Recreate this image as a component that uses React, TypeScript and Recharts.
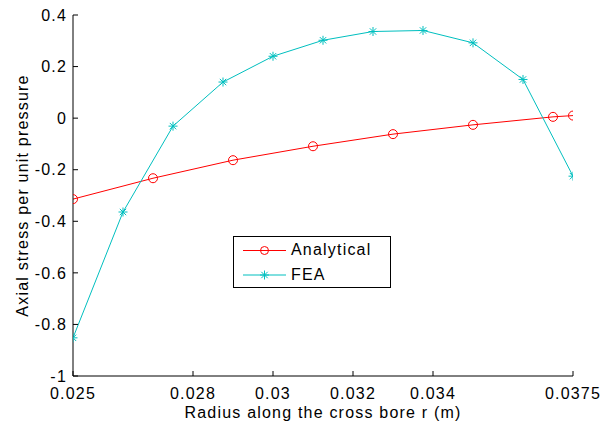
import React from 'react';
import { LineChart, Line, XAxis, YAxis, Legend } from 'recharts';

const analyticalR = [0.025, 0.027, 0.029, 0.031, 0.033, 0.035, 0.037, 0.0375];
const analyticalStress = [-0.314, -0.233, -0.163, -0.109, -0.062, -0.026, 0.005, 0.01];

const feaR = [0.025, 0.02625, 0.0275, 0.02875, 0.03, 0.03125, 0.0325, 0.03375, 0.035, 0.03625, 0.0375];
const feaStress = [-0.852, -0.364, -0.031, 0.14, 0.24, 0.302, 0.336, 0.34, 0.292, 0.15, -0.225];

const xTicks = [0.025, 0.028, 0.03, 0.032, 0.034, 0.0375];
const yTicks = [-1, -0.8, -0.6, -0.4, -0.2, 0, 0.2, 0.4];

const analyticalData = analyticalR.map((r, i) => ({ r, v: analyticalStress[i] }));
const feaData = feaR.map((r, i) => ({ r, v: feaStress[i] }));

const RED = '#FF0000';
const CYAN = '#00BFBF';
const FONT = 'Arial, "Liberation Sans", sans-serif';
const FS = 16;
const LS = 1.2;

const Circle = (props: any) => {
  const { cx, cy } = props;
  if (cx == null || cy == null) return null;
  return <circle cx={cx} cy={cy} r={4.5} fill="none" stroke={RED} strokeWidth={1} />;
};

const Star = (props: any) => {
  const { cx, cy } = props;
  if (cx == null || cy == null) return null;
  const s = 4.5;
  const d = 3.2;
  return (
    <g stroke={CYAN} strokeWidth={1}>
      <line x1={cx - s} y1={cy} x2={cx + s} y2={cy} />
      <line x1={cx} y1={cy - s} x2={cx} y2={cy + s} />
      <line x1={cx - d} y1={cy - d} x2={cx + d} y2={cy + d} />
      <line x1={cx - d} y1={cy + d} x2={cx + d} y2={cy - d} />
    </g>
  );
};

const LegendBox = () => (
  <div
    style={{
      width: 158,
      height: 52,
      border: '1px solid #000',
      background: '#fff',
      boxSizing: 'border-box',
      position: 'relative',
      fontFamily: FONT,
      fontSize: FS,
      letterSpacing: LS,
    }}
  >
    <svg width={60} height={52} style={{ position: 'absolute', left: 0, top: 0 }}>
      <line x1={9} y1={13.5} x2={52} y2={13.5} stroke={RED} />
      <circle cx={30.5} cy={13.5} r={4} fill="none" stroke={RED} />
      <line x1={9} y1={38} x2={52} y2={38} stroke={CYAN} />
      <Star cx={30.5} cy={38} />
    </svg>
    <div style={{ position: 'absolute', left: 57, top: 3, lineHeight: '20px', color: '#000' }}>Analytical</div>
    <div style={{ position: 'absolute', left: 57, top: 28, lineHeight: '20px', color: '#000' }}>FEA</div>
  </div>
);

const fmt = (v: number) => {
  if (Math.abs(v) < 1e-9) return '0';
  return String(v);
};

export default function App() {
  return (
    <div style={{ position: 'absolute', left: 0, top: 0, width: 609, height: 423, background: '#fff' }}>
      <LineChart
        width={609}
        height={423}
        margin={{ top: 15, right: 36, bottom: 7, left: 13 }}
        style={{ fontFamily: FONT }}
      >
        <XAxis
          xAxisId="b"
          dataKey="r"
          type="number"
          domain={[0.025, 0.0375]}
          ticks={xTicks}
          tickFormatter={fmt}
          allowDataOverflow
          height={40}
          stroke="#000"
          tickSize={-5}
          tickMargin={17}
          tick={{ fill: '#000', fontSize: FS, letterSpacing: LS }}
          label={{
            value: 'Radius along the cross bore r (m)',
            position: 'insideBottom',
            offset: -2,
            fill: '#000',
            fontSize: FS,
            letterSpacing: LS,
          } as any}
        />
        <XAxis
          xAxisId="t"
          orientation="top"
          dataKey="r"
          type="number"
          domain={[0.025, 0.0375]}
          ticks={xTicks}
          allowDataOverflow
          height={0}
          stroke="#000"
          tickSize={-5}
          tick={false}
        />
        <YAxis
          yAxisId="l"
          type="number"
          domain={[-1, 0.4]}
          ticks={yTicks}
          tickFormatter={fmt}
          allowDataOverflow
          width={60}
          stroke="#000"
          tickSize={-5}
          tickMargin={11}
          tick={{ fill: '#000', fontSize: FS, letterSpacing: LS }}
          label={{
            value: 'Axial stress per unit pressure',
            angle: -90,
            position: 'insideLeft',
            offset: 9,
            fill: '#000',
            fontSize: FS,
            letterSpacing: LS,
            style: { textAnchor: 'middle' },
          } as any}
        />
        <YAxis
          yAxisId="r"
          orientation="right"
          type="number"
          domain={[-1, 0.4]}
          ticks={yTicks}
          allowDataOverflow
          width={0}
          stroke="#000"
          tickSize={-5}
          tick={false}
        />
        <Legend
          layout="vertical"
          align="center"
          verticalAlign="middle"
          content={() => <LegendBox />}
          wrapperStyle={{ position: 'absolute', left: 233, top: 236, width: 158, height: 52 }}
        />
        <Line
          xAxisId="b"
          yAxisId="l"
          data={analyticalData}
          dataKey="v"
          name="Analytical"
          stroke={RED}
          strokeWidth={1}
          dot={<Circle />}
          isAnimationActive={false}
        />
        <Line
          xAxisId="b"
          yAxisId="l"
          data={feaData}
          dataKey="v"
          name="FEA"
          stroke={CYAN}
          strokeWidth={1}
          dot={<Star />}
          isAnimationActive={false}
        />
      </LineChart>
    </div>
  );
}
